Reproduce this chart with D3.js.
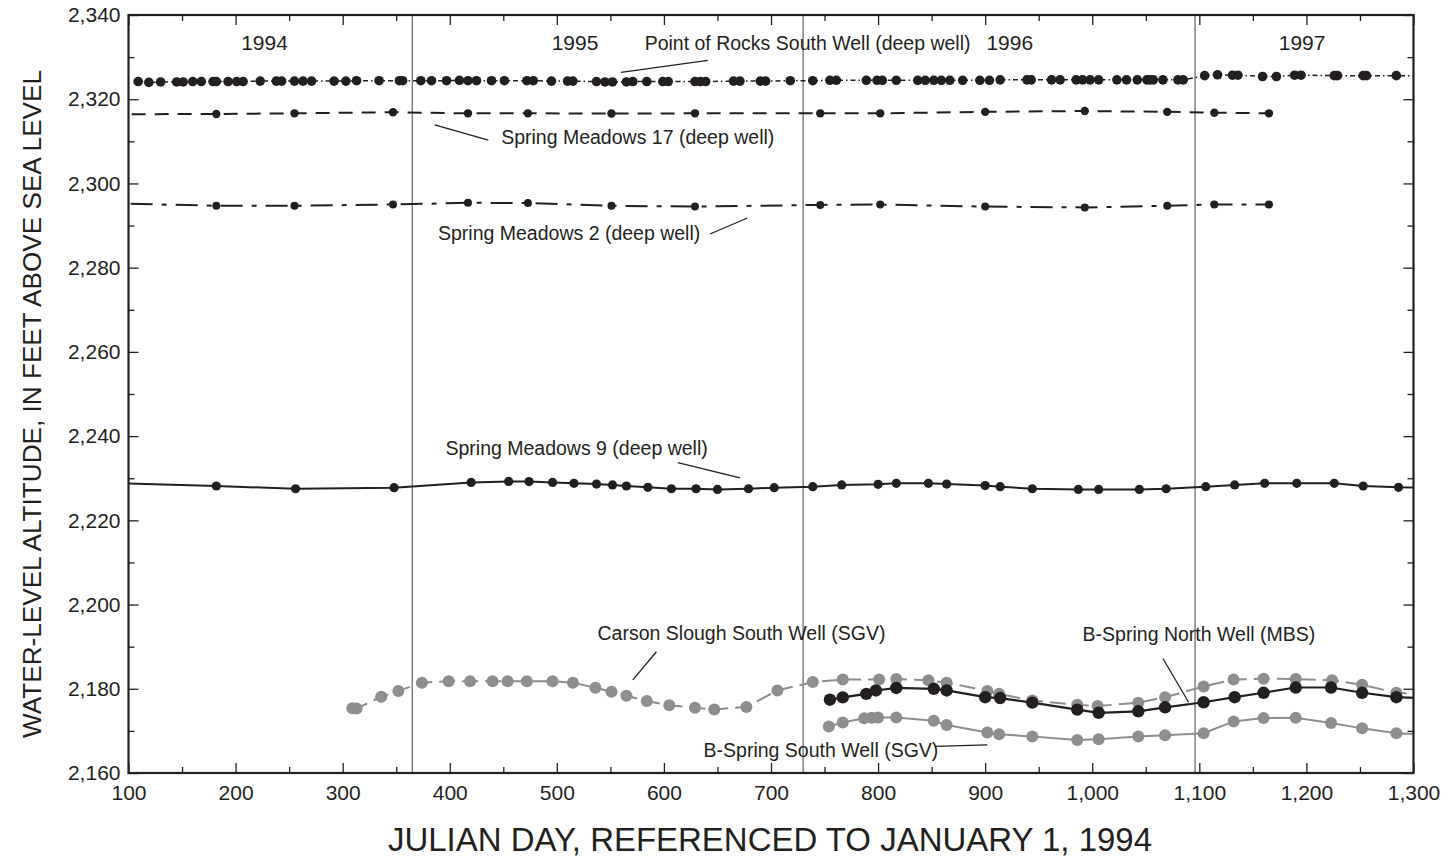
<!DOCTYPE html>
<html>
<head>
<meta charset="utf-8">
<script src="https://cdn.jsdelivr.net/npm/d3@7"></script>
<style>
  body { margin: 0; background: #fff; }
  svg { display: block; font-family: "Liberation Sans", Arial, sans-serif; }
</style>
</head>
<body>
<svg width="1452" height="863"></svg>
<script>
// Julian day (from Jan 1 1994) and water level (ft above sea level) per well

const porDays = [109,119,130,145,151,160,168,179,182,193,201,207,223,238,243,255,263,271,292,303,313,334,353,356,373,383,397,409,417,425,439,451,472,478,495,510,515,537,
    545,552,565,571,584,599,604,629,634,639,665,671,690,695,718,739,755,761,789,799,804,817,837,844,852,859,867,879,895,904,
    914,939,943,962,970,985,991,998,1006,1023,1032,1042,1051,1054,1057,1066,1080,1085,
    1105,1117,1131,1136,1159,1172,1189,1195,1226,1229,1253,1256,1284,1330];
const porLevel = [2324.2,2324.0,2324.1,2324.1,2324.1,2324.2,2324.2,2324.2,2324.2,2324.2,2324.2,2324.2,2324.3,2324.3,2324.3,2324.3,2324.3,2324.3,2324.3,2324.3,2324.4,2324.4,2324.4,2324.4,2324.4,2324.4,2324.4,2324.5,2324.4,2324.4,2324.4,2324.4,2324.4,2324.4,2324.3,2324.3,2324.3,2324.2,
    2324.1,2324.1,2324.1,2324.2,2324.2,2324.2,2324.2,2324.2,2324.2,2324.2,2324.3,2324.3,2324.3,2324.3,2324.4,2324.4,2324.5,2324.5,2324.5,2324.5,2324.5,2324.5,2324.5,2324.5,2324.5,2324.5,2324.5,2324.5,2324.5,2324.5,
    2324.6,2324.6,2324.6,2324.6,2324.6,2324.6,2324.6,2324.6,2324.6,2324.6,2324.6,2324.6,2324.6,2324.6,2324.6,2324.6,2324.6,2324.6,
    2325.6,2325.8,2325.7,2325.7,2325.4,2325.4,2325.7,2325.7,2325.6,2325.6,2325.6,2325.6,2325.6,2325.6];

const smDays = [60,182,255,347,417,473,551,629,746,802,900,993,1070,1114,1165];
const sm17Level = [2316.4,2316.5,2316.65,2316.9,2316.65,2316.65,2316.6,2316.65,2316.65,2316.65,2317.0,2317.2,2317.0,2316.8,2316.65];
const sm2Level = [2295.4,2294.7,2294.7,2295.0,2295.4,2295.35,2294.7,2294.5,2294.9,2295.0,2294.5,2294.3,2294.7,2295.0,2295.0];

const sm9Days = [60,182,256,348,420,455,474,496,516,537,552,565,585,607,630,650,679,
    703,739,766,800,817,847,864,900,914,944,987,1006,1044,1069,1106,1133,1161,1191,1226,1253,1286,1330];
const sm9Level = [2229.0,2228.15,2227.5,2227.75,2229.0,2229.25,2229.2,2229.0,2228.8,2228.6,2228.4,2228.15,2227.85,2227.5,2227.5,2227.35,2227.5,
    2227.75,2228.0,2228.4,2228.55,2228.8,2228.8,2228.6,2228.25,2228.0,2227.5,2227.35,2227.35,2227.35,2227.5,2228.0,2228.4,2228.8,2228.8,2228.8,2228.15,2227.85,2227.75];

const csDays = [309,313,336,352,374,399,419,440,454,472,496,515,536,551,565,584,605,629,647,677,
    706,739,767,801,817,847,864,902,913,944,986,1005,1043,1068,1104,1132,1160,1190,1224,1252,1284,1330];
const csLevel = [2175.4,2175.3,2178.1,2179.5,2181.45,2181.8,2181.8,2181.8,2181.8,2181.8,2181.8,2181.45,2180.25,2179.3,2178.35,2177.1,2176.1,2175.5,2175.1,2175.7,
    2179.6,2181.6,2182.2,2182.2,2182.3,2182.0,2181.45,2179.5,2178.8,2177.2,2176.2,2175.9,2176.7,2178.0,2180.55,2182.2,2182.4,2182.3,2182.0,2180.95,2179.05,2178.4];

const bsnDays = [755,767,789,798,817,852,864,900,914,944,986,1006,1043,1068,1104,1133,1160,1190,1223,1252,1284,1330];
const bsnLevel = [2177.4,2177.95,2178.8,2179.6,2180.2,2180.0,2179.6,2178.0,2177.8,2176.7,2175.05,2174.3,2174.65,2175.6,2176.8,2178.0,2179.05,2180.3,2180.3,2179.05,2178.0,2177.5];

const bssDays = [754,767,787,794,800,817,852,864,902,913,944,986,1006,1043,1068,1104,1132,1160,1190,1223,1252,1284,1330];
const bssLevel = [2171.06,2172.0,2173.0,2173.1,2173.2,2173.2,2172.4,2171.4,2169.6,2169.2,2168.65,2167.85,2168.0,2168.65,2168.95,2169.45,2172.25,2173.05,2173.1,2171.85,2170.6,2169.45,2169.0];

const yearStarts = [365, 730, 1096];
const yearLabels = ["1994", "1995", "1996", "1997"];
const yearLabelDays = [227, 517, 923, 1196];

const xTicks = d3.range(100, 1301, 100);
const xMinor = d3.range(150, 1300, 100);
const yTicks = d3.range(2160, 2341, 20);
const yMinor = d3.range(2170, 2340, 20);

// labels with leader lines, in data units
const notes = [
    {text: "Point of Rocks South Well (deep well)", x: 582, y: 2331.6, line: [[560, 2326.4], [641, 2329.2]]},
    {text: "Spring Meadows 17 (deep well)", x: 448, y: 2309.4, line: [[386, 2313.9], [436, 2310.3]]},
    {text: "Spring Meadows 2 (deep well)", x: 389, y: 2286.6, line: [[643, 2288.0], [678, 2291.8]]},
    {text: "Spring Meadows 9 (deep well)", x: 396, y: 2235.5, line: [[613, 2233.7], [671, 2230.1]]},
    {text: "Carson Slough South Well (SGV)", x: 538, y: 2191.6, line: [[571, 2182.1], [593, 2188.8]]},
    {text: "B-Spring North Well (MBS)", x: 991, y: 2191.4, line: [[1066, 2187.2], [1090, 2176.8]]},
    {text: "B-Spring South Well (SGV)", x: 637, y: 2163.8, line: [[853, 2166.3], [902, 2166.7]]}
];

var svg = d3.select("svg");
var margin = {left: 128.5, right: 1413.5, top: 15, bottom: 773};

var x = d3.scaleLinear().domain([100, 1300]).range([margin.left, margin.right]);
var y = d3.scaleLinear().domain([2160, 2340]).range([margin.bottom, margin.top]);

const black = "#231f20", gray = "#8e8e8e";

svg.append("defs").append("clipPath").attr("id", "plot")
    .append("rect")
    .attr("x", margin.left).attr("y", margin.top)
    .attr("width", margin.right - margin.left).attr("height", margin.bottom - margin.top);

// year boundaries
svg.append("g").selectAll("line")
    .data(yearStarts)
    .enter().append("line")
    .attr("x1", d => x(d)).attr("x2", d => x(d))
    .attr("y1", margin.top).attr("y2", margin.bottom)
    .attr("stroke", "#6d6d6d").attr("stroke-width", 1.3);

svg.append("g").selectAll("text")
    .data(yearLabels)
    .enter().append("text")
    .attr("x", (d, i) => x(yearLabelDays[i]))
    .attr("y", y(2331.6))
    .attr("text-anchor", "middle")
    .attr("font-size", 21)
    .attr("fill", black)
    .text(d => d);

var series = [
    {days: porDays, level: porLevel, color: black, width: 1.5, dash: "5,3,1.5,3", r: 4.8},
    {days: smDays, level: sm17Level, color: black, width: 2, dash: "14,9", r: 4.2},
    {days: smDays, level: sm2Level, color: black, width: 2, dash: "22,9,5,9", r: 4},
    {days: sm9Days, level: sm9Level, color: black, width: 2, dash: null, r: 4.6},
    {days: csDays, level: csLevel, color: gray, width: 2, dash: "16,7", r: 6},
    {days: bssDays, level: bssLevel, color: gray, width: 2, dash: null, r: 6},
    {days: bsnDays, level: bsnLevel, color: black, width: 2.2, dash: null, r: 6.2}
];

var line = d3.line().x(d => x(d[0])).y(d => y(d[1]));
var plot = svg.append("g").attr("clip-path", "url(#plot)");

series.forEach(function (s) {
    var pts = s.days.map((d, i) => [d, s.level[i]]);
    plot.append("path")
        .datum(pts)
        .attr("fill", "none")
        .attr("stroke", s.color)
        .attr("stroke-width", s.width)
        .attr("stroke-dasharray", s.dash)
        .attr("d", line);
    plot.append("g").selectAll("circle")
        .data(pts)
        .enter().append("circle")
        .attr("cx", d => x(d[0]))
        .attr("cy", d => y(d[1]))
        .attr("r", s.r)
        .attr("fill", s.color);
});

// axes, ticks pointing inward
function styleAxis(g) {
    g.select(".domain").remove();
    g.selectAll(".tick line").attr("stroke", black).attr("stroke-width", 1.3);
    g.selectAll("text").attr("font-size", 21).attr("fill", black);
}

svg.append("g").attr("transform", `translate(0,${margin.bottom})`)
    .call(d3.axisBottom(x).tickValues(xTicks).tickSize(-10).tickPadding(12).tickFormat(d3.format(",")))
    .call(styleAxis);
svg.append("g").attr("transform", `translate(0,${margin.bottom})`)
    .call(d3.axisBottom(x).tickValues(xMinor).tickSize(-6).tickFormat(""))
    .call(styleAxis);
svg.append("g").attr("transform", `translate(0,${margin.top})`)
    .call(d3.axisTop(x).tickValues(xTicks).tickSize(-10).tickFormat(""))
    .call(styleAxis);
svg.append("g").attr("transform", `translate(0,${margin.top})`)
    .call(d3.axisTop(x).tickValues(xMinor).tickSize(-6).tickFormat(""))
    .call(styleAxis);

svg.append("g").attr("transform", `translate(${margin.left},0)`)
    .call(d3.axisLeft(y).tickValues(yTicks).tickSize(-10).tickPadding(8).tickFormat(d3.format(",")))
    .call(styleAxis);
svg.append("g").attr("transform", `translate(${margin.left},0)`)
    .call(d3.axisLeft(y).tickValues(yMinor).tickSize(-6).tickFormat(""))
    .call(styleAxis);
svg.append("g").attr("transform", `translate(${margin.right},0)`)
    .call(d3.axisRight(y).tickValues(yTicks).tickSize(-10).tickFormat(""))
    .call(styleAxis);
svg.append("g").attr("transform", `translate(${margin.right},0)`)
    .call(d3.axisRight(y).tickValues(yMinor).tickSize(-6).tickFormat(""))
    .call(styleAxis);

// frame
svg.append("rect")
    .attr("x", margin.left).attr("y", margin.top)
    .attr("width", margin.right - margin.left).attr("height", margin.bottom - margin.top)
    .attr("fill", "none").attr("stroke", black).attr("stroke-width", 2.2);

// annotations
var ann = svg.append("g");
notes.forEach(function (n) {
    ann.append("text")
        .attr("x", x(n.x)).attr("y", y(n.y))
        .attr("font-size", 19.5)
        .attr("fill", black)
        .text(n.text);
    ann.append("line")
        .attr("x1", x(n.line[0][0])).attr("y1", y(n.line[0][1]))
        .attr("x2", x(n.line[1][0])).attr("y2", y(n.line[1][1]))
        .attr("stroke", black).attr("stroke-width", 1.3);
});

// axis titles
svg.append("text")
    .attr("x", 770).attr("y", 851)
    .attr("text-anchor", "middle")
    .attr("font-family", "'Liberation Sans Narrow', 'Liberation Sans', Arial, sans-serif")
    .attr("font-size", 33)
    .attr("textLength", 764).attr("lengthAdjust", "spacingAndGlyphs")
    .attr("fill", black)
    .text("JULIAN DAY, REFERENCED TO JANUARY 1, 1994");

svg.append("text")
    .attr("transform", "translate(41,404) rotate(-90)")
    .attr("text-anchor", "middle")
    .attr("font-family", "'Liberation Sans Narrow', 'Liberation Sans', Arial, sans-serif")
    .attr("font-size", 26)
    .attr("textLength", 668).attr("lengthAdjust", "spacingAndGlyphs")
    .attr("fill", black)
    .text("WATER-LEVEL ALTITUDE, IN FEET ABOVE SEA LEVEL");
</script>
</body>
</html>
